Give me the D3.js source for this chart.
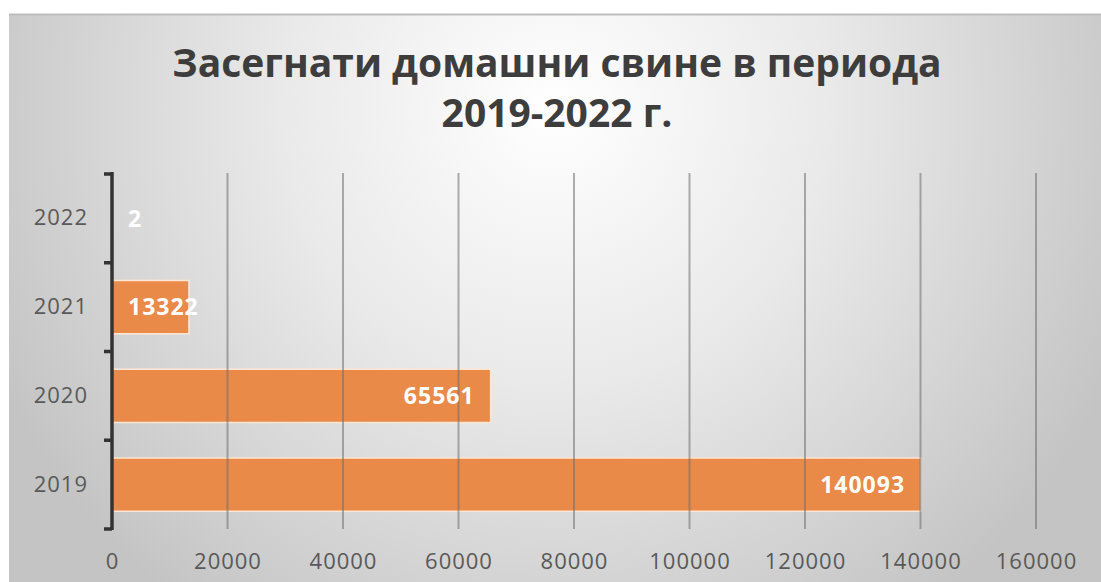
<html>
<head>
<meta charset="utf-8">
<title>Засегнати домашни свине</title>
<script src="https://d3js.org/d3.v7.min.js"></script>
<style>
body { margin: 0; background: #fff; }
text { font-family: "Open Sans", "Noto Sans", sans-serif; }
</style>
</head>
<body>
<svg id="chart" width="1101" height="582"></svg>
<script>
var years = ["2019", "2020", "2021", "2022"];
var pigs = [140093, 65561, 13322, 2];
var xTicks = [0, 20000, 40000, 60000, 80000, 100000, 120000, 140000, 160000];
var titleLines = ["Засегнати домашни свине в периода", "2019-2022 г."];

var svg = d3.select("#chart");

// background gradient
var defs = svg.append("defs");
var grad = defs.append("radialGradient")
    .attr("id", "bg")
    .attr("gradientUnits", "userSpaceOnUse")
    .attr("cx", 555).attr("cy", 110).attr("r", 620);
grad.append("stop").attr("offset", "0%").attr("stop-color", "#ffffff");
grad.append("stop").attr("offset", "45%").attr("stop-color", "#e9e9e9");
grad.append("stop").attr("offset", "100%").attr("stop-color", "#c4c4c4");

svg.append("rect")
    .attr("x", 9).attr("y", 14)
    .attr("width", 1092).attr("height", 568)
    .attr("fill", "url(#bg)");
svg.append("line")
    .attr("x1", 9).attr("x2", 1101).attr("y1", 14.5).attr("y2", 14.5)
    .attr("stroke", "#bdbdbd").attr("stroke-width", 2);

// title
svg.append("g").selectAll("text")
  .data(titleLines)
  .enter().append("text")
    .attr("x", 557)
    .attr("y", function(d, i) { return 77 + i * 50; })
    .attr("text-anchor", "middle")
    .attr("font-size", 39)
    .attr("font-weight", "bold")
    .attr("fill", "#3d3d3d")
    .text(function(d) { return d; });

var x = d3.scaleLinear()
    .domain([0, 160000])
    .range([112, 1036]);

var y = d3.scaleBand()
    .domain(years.slice().reverse())
    .range([174, 529])
    .paddingInner(0.4)
    .paddingOuter(0.2);

var data = years.map(function(d, i) { return {year: d, value: pigs[i]}; });

// bars
svg.append("g").selectAll("rect")
  .data(data)
  .enter().append("rect")
    .attr("x", x(0))
    .attr("y", function(d) { return y(d.year); })
    .attr("width", function(d) { return x(d.value) - x(0); })
    .attr("height", y.bandwidth())
    .attr("fill", "#ea8a48")
    .attr("stroke", "#fde6d4")
    .attr("stroke-width", 1.5);

// gridlines (drawn over bars, faint)
svg.append("g").selectAll("line")
  .data(xTicks.slice(1))
  .enter().append("line")
    .attr("x1", function(d) { return x(d); })
    .attr("x2", function(d) { return x(d); })
    .attr("y1", 173).attr("y2", 529)
    .attr("stroke", "#6e6e6e")
    .attr("stroke-opacity", 0.55)
    .attr("stroke-width", 2);

// y axis
var yAxis = svg.append("g")
    .attr("transform", "translate(112,0)")
    .call(d3.axisLeft(y).tickSize(0).tickPadding(24));
yAxis.select(".domain").remove();
yAxis.selectAll("text")
    .attr("font-size", 22)
    .attr("letter-spacing", 1)
    .attr("fill", "#595959")
    .style("font-family", "'Open Sans', sans-serif");

var bandEdges = d3.range(years.length + 1).map(function(i) { return y.range()[0] + i * y.step(); });
svg.append("line")
    .attr("x1", 112).attr("x2", 112)
    .attr("y1", 172).attr("y2", 530)
    .attr("stroke", "#333").attr("stroke-width", 3.5);
svg.append("g").selectAll("line")
  .data(bandEdges)
  .enter().append("line")
    .attr("x1", 104).attr("x2", 112)
    .attr("y1", function(d) { return d; })
    .attr("y2", function(d) { return d; })
    .attr("stroke", "#333").attr("stroke-width", 3.5);

// x axis labels
var xAxis = svg.append("g")
    .attr("transform", "translate(0,553)")
    .call(d3.axisBottom(x).tickValues(xTicks).tickSize(0).tickPadding(0).tickFormat(d3.format("d")));
xAxis.select(".domain").remove();
xAxis.selectAll("text")
    .attr("font-size", 22)
    .attr("letter-spacing", 1)
    .attr("fill", "#595959")
    .style("font-family", "'Open Sans', sans-serif");

// data labels
svg.append("g").selectAll("text")
  .data(data)
  .enter().append("text")
    .attr("y", function(d) { return y(d.year) + y.bandwidth() / 2; })
    .attr("dy", "0.36em")
    .attr("font-size", 23)
    .attr("font-weight", "bold")
    .attr("letter-spacing", 1)
    .attr("fill", "#ffffff")
    .text(function(d) { return d.value; })
    .each(function(d) {
      var w = this.getComputedTextLength();
      var left = Math.max(x(d.value) - 16 - w, x(0) + 16);
      d3.select(this).attr("x", left);
    });
</script>
</body>
</html>
